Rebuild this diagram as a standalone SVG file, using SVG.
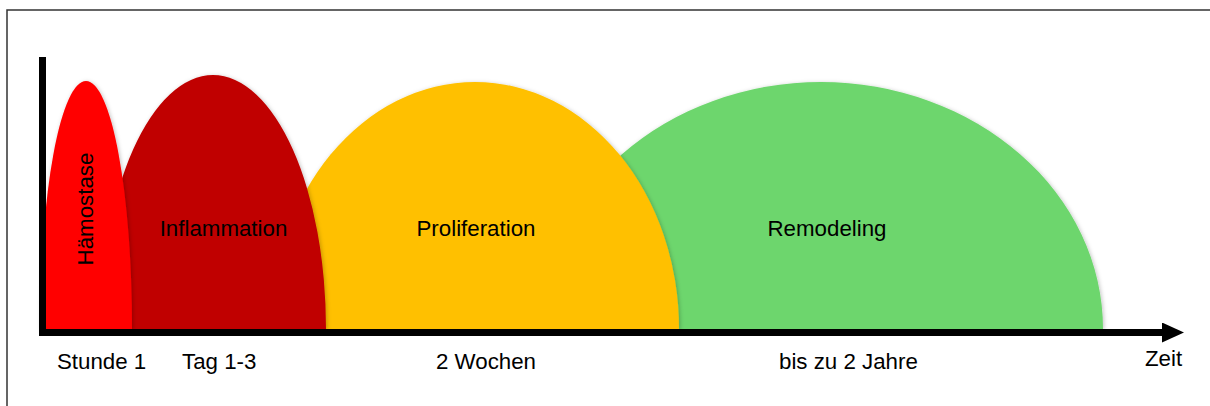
<svg xmlns="http://www.w3.org/2000/svg" width="1210" height="406" viewBox="0 0 1210 406">
  <style>
    .lbl { font-family: "Liberation Sans", Arial, sans-serif; font-size: 22.3px; fill: #000; }
    .phase { filter: url(#soft); }
  </style>
  <defs>
    <filter id="soft" x="-10%" y="-10%" width="120%" height="120%">
      <feDropShadow dx="1" dy="1" stdDeviation="2" flood-color="#000" flood-opacity="0.25"/>
    </filter>
    <marker id="head" viewBox="0 0 22 20" refX="0" refY="10" markerWidth="22" markerHeight="20" markerUnits="userSpaceOnUse" orient="auto">
      <path d="M0,0 L22,10 L0,20 Z" fill="#000"/>
    </marker>
  </defs>

  <rect x="0" y="0" width="1210" height="406" fill="#fff"/>
  <!-- frame -->
  <rect x="7" y="10" width="1220" height="420" fill="none" stroke="#333" stroke-width="1.5"/>

  <!-- wound healing phases, back to front -->
  <g id="remodeling">
    <path class="phase" d="M539,329 A282,247 0 0 1 1103,329 Z" fill="#6DD66D"/>
    <text class="lbl" x="827" y="236" text-anchor="middle">Remodeling</text>
  </g>
  <g id="proliferation">
    <path class="phase" d="M271,329 A204,247 0 0 1 679,329 Z" fill="#FFC000"/>
    <text class="lbl" x="476" y="236" text-anchor="middle">Proliferation</text>
  </g>
  <g id="inflammation">
    <path class="phase" d="M100,329 A113,254 0 0 1 326,329 Z" fill="#C00000"/>
    <text class="lbl" x="223.5" y="236" text-anchor="middle">Inflammation</text>
  </g>
  <g id="haemostase">
    <path class="phase" d="M40,329 A46,248 0 0 1 132,329 Z" fill="#FF0000"/>
    <text class="lbl" x="0" y="0" text-anchor="middle" transform="translate(92.5,209) rotate(-90)">Hämostase</text>
  </g>

  <!-- axes -->
  <g id="axes">
    <line x1="42.5" y1="57" x2="42.5" y2="336" stroke="#000" stroke-width="7"/>
    <line x1="39" y1="332.5" x2="1162" y2="332.5" stroke="#000" stroke-width="7" marker-end="url(#head)"/>
  </g>

  <!-- time labels -->
  <g id="time-labels">
    <text class="lbl" x="57" y="369">Stunde 1</text>
    <text class="lbl" x="182" y="369">Tag 1-3</text>
    <text class="lbl" x="436" y="369">2 Wochen</text>
    <text class="lbl" x="779" y="369">bis zu 2 Jahre</text>
    <text class="lbl" x="1145" y="366">Zeit</text>
  </g>
</svg>
